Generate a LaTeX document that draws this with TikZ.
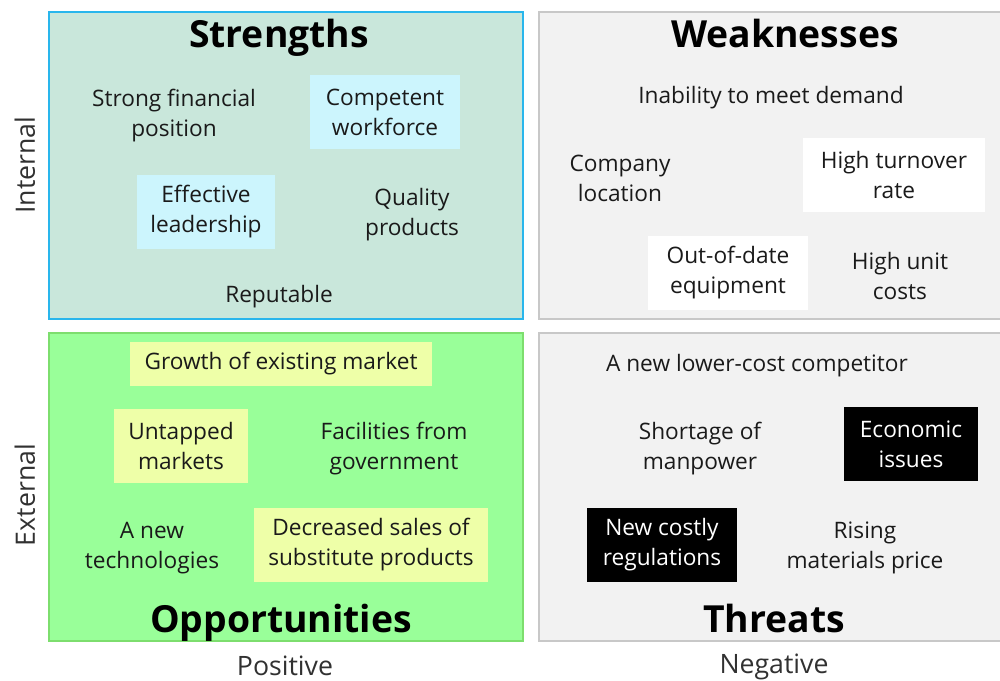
\documentclass[tikz,border=0pt]{standalone}
\usepackage{fontspec}
\setmainfont{Open Sans}
\usepackage{tikz}
\usetikzlibrary{positioning}

\definecolor{strfill}{RGB}{201,231,219}
\definecolor{strline}{RGB}{41,182,236}
\definecolor{strbox}{RGB}{204,245,253}
\definecolor{oppfill}{RGB}{153,255,153}
\definecolor{oppline}{RGB}{125,222,110}
\definecolor{oppbox}{RGB}{238,255,168}
\definecolor{negfill}{RGB}{242,242,242}
\definecolor{negline}{RGB}{200,200,200}
\definecolor{ink}{RGB}{26,26,26}

\begin{document}
\begin{tikzpicture}[x=0.75pt, y=-0.75pt,
    txt/.style = {align=center, inner sep=1pt, text=ink,
                  font=\fontsize{17}{22.5}\selectfont},
    item/.style = {txt, yshift=-2.2pt},
    tag/.style = {txt, minimum width=#1, minimum height=55.5pt},
    cyanbox/.style = {tag=#1, fill=strbox},
    whitebox/.style = {tag=#1, fill=white},
    yellowbox/.style = {tag=#1, fill=oppbox},
    blackbox/.style = {tag=#1, fill=black, text=white},
    title/.style = {anchor=base, font=\fontsize{28}{30}\selectfont\bfseries},
    axis/.style = {text=ink!90, font=\fontsize{20}{24}\selectfont}]
    \useasboundingbox (0,0) rectangle (1000,681);

    % the four quarters
    \draw[fill=strfill, draw=strline, line width=1pt] (49,12) rectangle (523,319);
    \draw[fill=negfill, draw=negline, line width=1pt] (539,12) rectangle (1004,319);
    \draw[fill=oppfill, draw=oppline, line width=1pt] (49,333) rectangle (523,641);
    \draw[fill=negfill, draw=negline, line width=1pt] (539,333) rectangle (1004,641);

    % strengths
    \node[title] (S) at (279,48) {Strengths};
    \node[item] (s1) at (174,113) {Strong financial\\position};
    \node[cyanbox=113pt] (s2) at (385,112) {Competent\\workforce};
    \node[cyanbox=103pt] (s3) at (206,212) {Effective\\leadership};
    \node[item] (s4) at (412,212) {Quality\\products};
    \node[item] (s5) at (279,294) {Reputable};

    % weaknesses
    \node[title] (W) at (785,48) {Weaknesses};
    \node[item] (w1) at (771,95) {Inability to meet demand};
    \node[item] (w2) at (620,175) {Company\\location};
    \node[whitebox=137pt] (w3) at (894,175) {High turnover\\rate};
    \node[whitebox=120pt] (w4) at (728,273) {Out-of-date\\equipment};
    \node[item] (w5) at (900,273) {High unit\\costs};

    % opportunities
    \node[yellowbox=226pt, minimum height=33pt] (o1) at (281,364) {Growth of existing market};
    \node[yellowbox=100pt] (o2) at (181,446) {Untapped\\markets};
    \node[item] (o3) at (394,446) {Facilities from\\government};
    \node[item] (o4) at (152,545) {A new\\technologies};
    \node[yellowbox=175pt] (o5) at (371,545) {Decreased sales of\\substitute products};
    \node[title] (O) at (281,632) {Opportunities};

    % threats
    \node[item] (t1) at (757,363) {A new lower-cost competitor};
    \node[item] (t2) at (700,446) {Shortage of\\manpower};
    \node[blackbox=100pt] (t3) at (911,444) {Economic\\issues};
    \node[blackbox=113pt] (t4) at (662,545) {New costly\\regulations};
    \node[item] (t5) at (865,545) {Rising\\materials price};
    \node[title] (T) at (774,632) {Threats};

    % axes
    \node[axis, rotate=90] (int) at (25,165) {Internal};
    \node[axis, rotate=90] (ext) at (25,495) {External};
    \node[axis] (pos) at (285,666) {Positive};
    \node[axis] (neg) at (774,667) {Negative};
\end{tikzpicture}
\end{document}
